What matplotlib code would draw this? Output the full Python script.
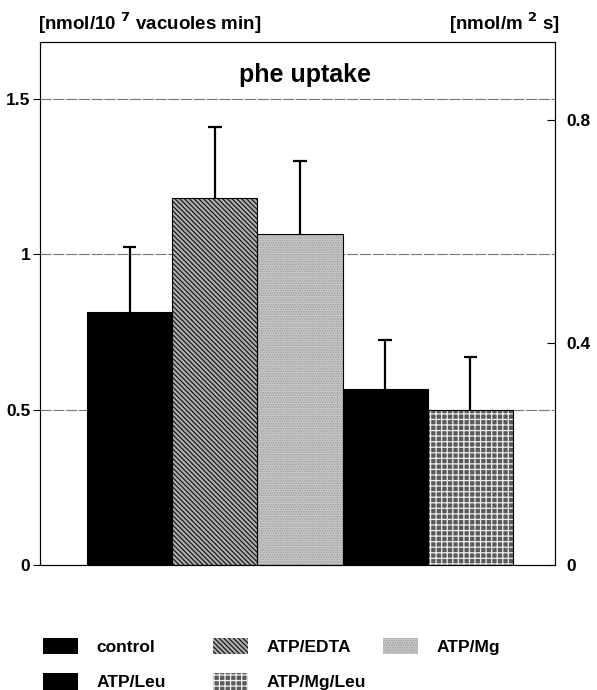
import numpy as np
import matplotlib.pyplot as plt
from matplotlib.patches import Patch

plt.rcParams['font.family'] = ['Liberation Sans', 'DejaVu Sans']
plt.rcParams['font.weight'] = 'bold'
plt.rcParams['hatch.linewidth'] = 0.9

# data (left axis units)
groups = ['control', 'ATP/EDTA', 'ATP/Mg', 'ATP/Leu', 'ATP/Mg/Leu']
uptake = [0.815, 1.18, 1.065, 0.566, 0.500]
err_up = [0.21, 0.23, 0.235, 0.158, 0.17]

# fill, hatch, hatch colour for each bar
faces = ['black', '#b0b0b0', '#cdcdcd', 'black', '#5a5a5a']
hatches = [None, '\\\\\\\\\\\\\\', '.......', None, '+++']
hatch_cols = ['black', '#1a1a1a', '#9a9a9a', 'black', '#eeeeee']

fig = plt.figure(figsize=(5.97, 6.9), dpi=100)
ax = fig.add_axes([0.067, 0.181, 0.8626, 0.758])

x = np.arange(len(groups))
tops = np.array(uptake) + np.array(err_up)
ax.vlines(x, uptake, tops, color='black', lw=1.6, zorder=1)
ax.hlines(tops, x - 0.08, x + 0.08, color='black', lw=1.6, zorder=1)
for i in range(len(groups)):
    ax.bar(x[i], uptake[i], width=1.0, color=faces[i], hatch=hatches[i],
           edgecolor=hatch_cols[i], linewidth=0, zorder=2)
    ax.bar(x[i], uptake[i], width=1.0, fill=False, edgecolor='black',
           linewidth=0.8, zorder=3)

ax.set_xlim(-1.053, 4.994)
ax.set_ylim(0, 1.683)
ax.set_xticks([])
ax.set_yticks([0, 0.5, 1, 1.5])
ax.set_yticklabels(['0', '0.5', '1', '1.5'], fontsize=12.5, fontweight='bold')
for v in [0.5, 1, 1.5]:
    ax.axhline(v, color='#777777', lw=0.8, ls=(0, (10, 1.5)), zorder=0)
ax.tick_params(axis='y', direction='out', length=5, width=0.8, pad=2)
for s in ax.spines.values():
    s.set_linewidth(0.8)
    s.set_color('#444444')

ax2 = ax.twinx()
ax2.set_ylim(0, 0.94)
ax2.set_yticks([0, 0.4, 0.8])
ax2.set_yticklabels(['0', '0.4', '0.8'], fontsize=12.5, fontweight='bold')
ax2.tick_params(axis='y', direction='in', length=6, width=0.8, pad=8)

ax.text(0.515, 0.937, 'phe uptake', transform=ax.transAxes, ha='center',
        va='center', fontsize=18, fontweight='bold')
fig.text(0.064, 0.967, r'[nmol/10 $^{\mathbf{7}}$ vacuoles min]', ha='left',
         va='center', fontsize=13.5, fontweight='bold')
fig.text(0.937, 0.967, r'[nmol/m $^{\mathbf{2}}$ s]', ha='right',
         va='center', fontsize=13.5, fontweight='bold')

# legend: three columns placed where the original has them
columns = [[0, 3], [1, 4], [2]]
col_x = [0.072, 0.357, 0.6415]
for cx, idx in zip(col_x, columns):
    handles = [Patch(facecolor=faces[i], hatch=hatches[i],
                     edgecolor=hatch_cols[i], linewidth=0) for i in idx]
    fig.legend(handles, [groups[i] for i in idx], loc='upper left',
               bbox_to_anchor=(cx, 0.076), frameon=False, fontsize=12.5,
               handlelength=2.0, handleheight=1.1, borderpad=0,
               borderaxespad=0, labelspacing=1.05, handletextpad=1.1)

plt.savefig('out.png', dpi=100)
